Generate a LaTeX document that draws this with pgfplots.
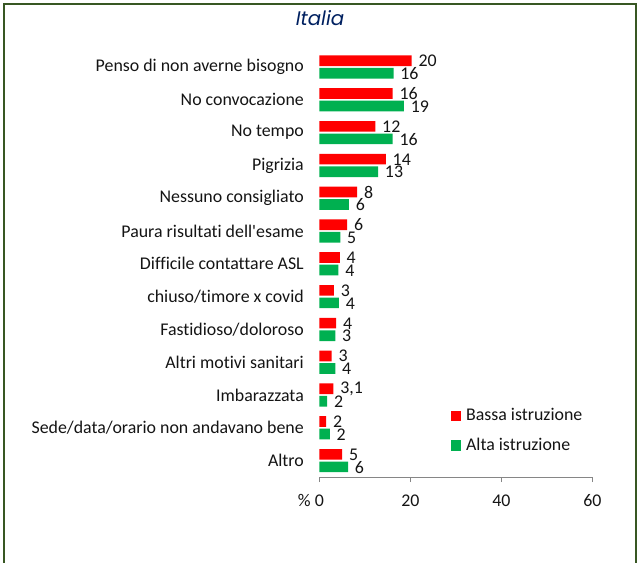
\documentclass[border=0pt]{standalone}
\usepackage{fontspec}
\setmainfont{Carlito}[Ligatures=NoCommon]
\newfontfamily\titlefont{Poppins}
\usepackage{pgfplots}
\pgfplotsset{compat=1.18}
\usepackage{pgfplotstable}

\definecolor{bassa}{RGB}{255,0,0}
\definecolor{alta}{RGB}{0,176,80}
\definecolor{framegreen}{RGB}{56,87,35}
\definecolor{axisgray}{RGB}{134,134,134}
\definecolor{titleblue}{RGB}{0,32,96}
\definecolor{txt}{RGB}{20,20,20}

\newcommand\lbl{\fontsize{13.4}{16}\selectfont}

% values in %, position of the category (0 = top), printed label
\pgfplotstableread{
val pos lab
20.3 0 20
16.1 1 16
12.3 2 12
14.6 3 14
8.3 4 8
6.1 5 6
4.5 6 4
3.2 7 3
3.7 8 4
2.7 9 3
3.1 10 3,1
1.5 11 2
5.0 12 5
}\tblbassa

\pgfplotstableread{
val pos lab
16.3 0 16
18.6 1 19
16.1 2 16
12.9 3 13
6.5 4 6
4.6 5 5
4.2 6 4
4.3 7 4
3.5 8 3
3.5 9 4
1.7 10 2
2.3 11 2
6.3 12 6
}\tblalta

\begin{document}
\begin{tikzpicture}
\useasboundingbox (0pt,0pt) rectangle (478.5pt,-422.25pt);

\begin{axis}[
at={(239.5pt,-357.75pt)}, anchor=south west,
scale only axis,
width=204.75pt, height=319.8pt,
xmin=0, xmax=60,
ymin=-0.5, ymax=12.5,
y dir=reverse,
xbar, bar width=8pt,
axis x line=bottom, axis y line=left,
axis line style={-},
x axis line style={axisgray, line width=0.75pt},
y axis line style={draw=none},
tick align=outside,
major tick length=3.75pt,
xtick style={axisgray, line width=0.75pt},
ytick style={draw=none},
xtick={0,20,40,60},
xticklabels={\llap{\%~}0,20,40,60},
ytick={0,1,2,3,4,5,6,7,8,9,10,11,12},
yticklabels={Penso di non averne bisogno,No convocazione,No tempo,Pigrizia,Nessuno consigliato,Paura risultati dell\textquotesingle esame,Difficile contattare ASL,chiuso/timore x covid,Fastidioso/doloroso,Altri motivi sanitari,Imbarazzata,Sede/data/orario non andavano bene,Altro},
xticklabel style={font=\lbl, text=txt, inner sep=0pt, yshift=-9.2pt},
yticklabel style={font=\lbl, text=txt, inner sep=0pt, xshift=-7.7pt},
/pgf/number format/assume math mode=true,
nodes near coords,
point meta=explicit symbolic,
every node near coord/.style={anchor=west, inner sep=0pt, xshift=5pt, font=\lbl, text=txt},
legend image code/.code={\fill[#1] (0pt,-3.95pt) rectangle (7.9pt,3.95pt);},
legend style={draw=none, fill=none, at={(axis description cs:0.481,0.161)}, anchor=north west,
  inner sep=0pt, row sep=11.6pt, font=\lbl, text=txt, nodes={inner sep=0pt},
  /tikz/every odd column/.style={column sep=3.5pt}},
legend cell align=left,
]
\addplot[fill=bassa, draw=none, bar shift=4.7pt,
  nodes near coords style={yshift=4.6pt}] table[x=val, y=pos, meta=lab]{\tblbassa};
\addplot[fill=alta, draw=none, bar shift=-4.7pt,
  nodes near coords style={yshift=-5.1pt}] table[x=val, y=pos, meta=lab]{\tblalta};
\legend{Bassa istruzione, Alta istruzione}
\end{axis}

\node[font=\titlefont\itshape\fontsize{14.8}{17}\selectfont, text=titleblue] at (240pt,-13.5pt) {Italia};

\draw[framegreen, line width=1.5pt] (3.15pt,-422.25pt) -- (3.15pt,-3.2pt) -- (477pt,-3.2pt) -- (477pt,-422.25pt);
\end{tikzpicture}
\end{document}
